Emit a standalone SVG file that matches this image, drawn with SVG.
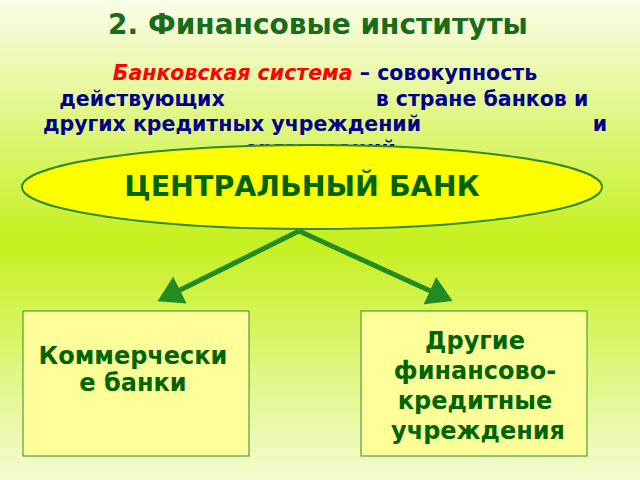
<svg xmlns="http://www.w3.org/2000/svg" width="640" height="480" viewBox="0 0 640 480">
<defs>
<linearGradient id="bg" x1="0" y1="0" x2="0" y2="1">
<stop offset="0" stop-color="#fafde8"/><stop offset="0.5" stop-color="#c6f01e"/><stop offset="1" stop-color="#f4fcd0"/>
</linearGradient>
<marker id="ah" markerWidth="6" markerHeight="6" refX="4" refY="3" orient="auto" markerUnits="strokeWidth">
<path d="M0,0 L5,3 L0,6 Z" fill="#228b22"/>
</marker>
<style>
text{font-family:"DejaVu Sans",Verdana,sans-serif;font-weight:bold;text-anchor:middle}
.d{fill:#00008b;font-size:20.5px}
.box{fill:#ffff99;stroke:#2e8b2e;stroke-width:1}
.g{fill:#006400;font-size:24px}
</style>
</defs>
<rect width="640" height="480" fill="url(#bg)"/>
<text x="318" y="34" fill="#1a6b1a" font-size="28">2. Финансовые институты</text>
<text x="325" y="80" class="d"><tspan fill="#ff0000" font-style="italic">Банковская система</tspan> – совокупность</text>
<text x="142" y="106" class="d">действующих</text>
<text x="482" y="106" class="d">в стране банков и</text>
<text x="232" y="131" class="d">других кредитных учреждений</text>
<text x="600" y="131" class="d">и</text>
<text x="320" y="156" class="d">организаций</text>
<g id="cb">
<ellipse cx="312" cy="187" rx="290" ry="42" fill="#ffff00" stroke="#2e8b2e" stroke-width="2"/>
<text x="302" y="196" fill="#006400" font-size="28.5">ЦЕНТРАЛЬНЫЙ  БАНК</text>
</g>
<g id="connectors" stroke="#228b22" stroke-width="5" fill="none">
<line x1="299" y1="231" x2="162" y2="299" marker-end="url(#ah)"/>
<line x1="299" y1="231" x2="448" y2="299" marker-end="url(#ah)"/>
</g>
<g id="kb">
<rect class="box" x="23" y="311" width="226" height="145"/>
<text x="133" y="364" class="g">Коммерчески</text>
<text x="133" y="391" class="g">е банки</text>
</g>
<g id="other">
<rect class="box" x="361" y="311" width="226" height="145"/>
<text x="475" y="349" class="g">Другие</text>
<text x="475" y="379" class="g">финансово-</text>
<text x="475" y="409" class="g">кредитные</text>
<text x="478" y="439" class="g">учреждения</text>
</g>
</svg>
